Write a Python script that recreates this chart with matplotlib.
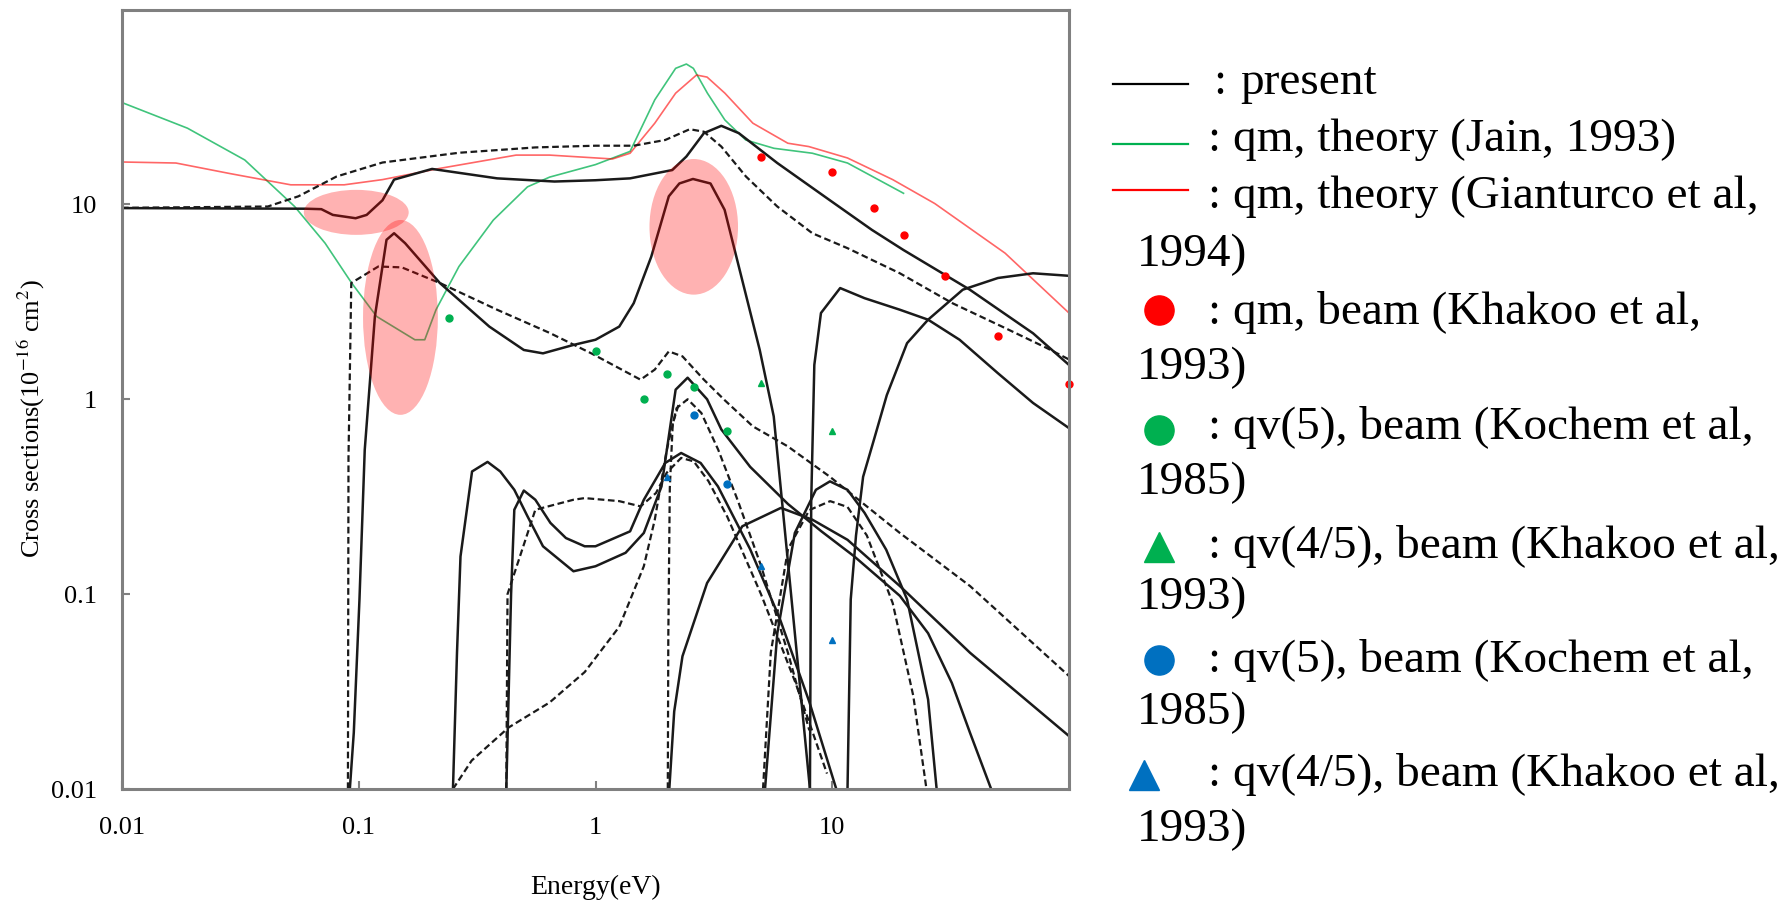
import matplotlib
matplotlib.use('Agg')
import matplotlib.pyplot as plt
from matplotlib.patches import Ellipse
from matplotlib.lines import Line2D

plt.rcParams['font.family'] = ['Liberation Serif', 'DejaVu Serif']
plt.rcParams['mathtext.fontset'] = 'stix'

## theory curves ##
jain_E = [0.01, 0.0189, 0.033, 0.0536, 0.0721, 0.0933, 0.119, 0.1726, 0.19, 0.212, 0.265,
          0.37, 0.516, 0.64, 1.0, 1.40, 1.78, 2.18, 2.42, 2.59, 2.97, 3.52, 4.31, 5.67,
          8.24, 11.6, 20.0]
jain_q = [33.3, 24.6, 16.9, 9.75, 6.32, 3.95, 2.66, 2.02, 2.02, 2.88, 4.8,
          8.3, 12.3, 13.8, 16.0, 18.7, 34.4, 49.9, 52.5, 49.9, 37.2, 27.1, 21.4, 19.4,
          18.3, 16.3, 11.4]
gian_E = [0.01, 0.0169, 0.0285, 0.0516, 0.0868, 0.126, 0.22, 0.462, 0.64, 1.18, 1.40,
          1.78, 2.18, 2.67, 2.96, 3.52, 4.62, 6.49, 7.96, 11.6, 18.0, 27.1, 53.7, 100]
gian_q = [16.5, 16.3, 14.4, 12.6, 12.6, 13.4, 15.3, 17.9, 17.9, 17.1, 18.3,
          26.1, 37.2, 46.1, 45.0, 37.2, 26.1, 20.6, 19.8, 17.3, 13.4, 10.1, 5.62, 2.77]

## present work, solid ##
qm_E = [0.01, 0.0597, 0.0695, 0.0777, 0.097, 0.108, 0.126, 0.141, 0.204, 0.384, 0.671,
        1.0, 1.40, 2.11, 2.42, 2.87, 3.40, 4.03, 5.86, 9.77, 14.7, 20, 38.1, 70.5, 100]
qm_q = [9.57, 9.5, 9.45, 8.83, 8.49, 8.83, 10.5, 13.4, 15.2, 13.6, 13.1,
        13.3, 13.6, 15.0, 17.6, 23.2, 25.3, 23.2, 16.3, 10.5, 7.4, 5.83, 3.65, 2.18, 1.50]
v1_E = [0.0917, 0.0953, 0.1007, 0.106, 0.117, 0.131, 0.141, 0.157, 0.22, 0.356, 0.498,
        0.60, 0.807, 1.0, 1.26, 1.45, 1.72, 2.04, 2.26, 2.58, 3.06, 3.51, 4.03, 4.94,
        5.66, 6.31, 7.08, 8.05]
v1_q = [0.01, 0.0195, 0.094, 0.55, 2.66, 6.58, 7.11, 6.32, 3.95, 2.36, 1.79,
        1.72, 1.90, 2.02, 2.36, 3.11, 5.39, 11.0, 12.8, 13.5, 12.8, 9.38, 4.8, 1.79,
        0.817, 0.211, 0.05, 0.01]
v2_E = [0.25, 0.26, 0.269, 0.301, 0.35, 0.396, 0.454, 0.516, 0.60, 0.807, 1.0, 1.34,
        1.6, 1.9, 2.18, 2.45, 2.96, 3.4, 4.5, 6.5, 9.0, 12.4, 19.3, 25.4, 32.0, 38.2, 46.9]
v2_q = [0.01, 0.05, 0.156, 0.426, 0.477, 0.426, 0.343, 0.251, 0.176, 0.131, 0.139, 0.163,
        0.206, 0.357, 1.12, 1.29, 1.0, 0.7, 0.45, 0.29, 0.21, 0.156, 0.098, 0.063, 0.035,
        0.0194, 0.01]
v3_E = [0.42, 0.44, 0.454, 0.498, 0.557, 0.645, 0.75, 0.90, 1.0, 1.40, 1.60, 1.97, 2.30,
        2.78, 3.29, 4.5, 6.0, 8.0, 10.4]
v3_q = [0.01, 0.1, 0.271, 0.34, 0.305, 0.232, 0.194, 0.176, 0.176, 0.21, 0.305, 0.471,
        0.53, 0.471, 0.357, 0.17, 0.075, 0.028, 0.01]
v4_E = [2.05, 2.15, 2.33, 2.96, 4.17, 6.07, 8.24, 11.6, 19.3, 38.2, 100]
v4_q = [0.01, 0.025, 0.048, 0.114, 0.223, 0.277, 0.241, 0.19, 0.11, 0.05, 0.0187]
v5_E = [8.05, 8.15, 8.4, 8.96, 10.8, 13.7, 19.3, 25.4, 34.5, 50.1, 70.5, 100]
v5_q = [0.01, 0.3, 1.5, 2.77, 3.72, 3.30, 2.88, 2.56, 2.02, 1.36, 0.957, 0.711]
v6_E = [11.6, 11.97, 12.6, 13.5, 15.0, 17.0, 20.7, 25.4, 35.6, 50.1, 70.5, 100]
v6_q = [0.01, 0.094, 0.2, 0.4, 0.62, 1.05, 1.94, 2.56, 3.65, 4.19, 4.43, 4.3]
v7_E = [5.2, 5.86, 6.95, 8.53, 9.78, 11.6, 13.7, 16.9, 20.7, 25.4, 27.6]
v7_q = [0.01, 0.063, 0.206, 0.343, 0.379, 0.343, 0.261, 0.169, 0.094, 0.0288, 0.01]

## present work, dashed ##
mt_E = [0.01, 0.0413, 0.0556, 0.0806, 0.126, 0.265, 0.557, 1.0, 1.45, 1.97, 2.50, 2.87,
        3.40, 4.32, 5.86, 8.24, 11.6, 19.3, 32.2, 53.7, 80.7, 100]
mt_q = [9.6, 9.75, 11.0, 13.9, 16.4, 18.4, 19.6, 20.0, 20.0, 21.4, 24.3, 23.6,
        19.8, 13.9, 9.75, 7.11, 5.96, 4.43, 3.11, 2.32, 1.83, 1.6]
d1_E = [0.09, 0.0905, 0.093, 0.121, 0.152, 0.22, 0.384, 0.64, 0.96, 1.55, 1.78, 2.04,
        2.33, 2.87, 3.51, 4.62, 6.49, 9.78, 19.3, 38.2, 100]
d1_q = [0.01, 0.5, 3.95, 4.8, 4.75, 3.95, 2.88, 2.19, 1.72, 1.26, 1.42, 1.76,
        1.66, 1.26, 0.99, 0.726, 0.573, 0.40, 0.206, 0.11, 0.038]
d2_E = [0.25, 0.3, 0.43, 0.64, 0.9, 1.26, 1.6, 1.78, 2.0, 2.2, 2.45, 2.8, 3.3, 4.0, 5.0,
        6.5, 8.0]
d2_q = [0.01, 0.014, 0.0207, 0.0278, 0.0398, 0.068, 0.139, 0.241, 0.55, 0.9, 1.0, 0.85,
        0.55, 0.3, 0.14, 0.05, 0.02]
d3_E = [0.42, 0.425, 0.557, 0.807, 0.9, 1.26, 1.55, 1.8, 2.0, 2.3, 2.6, 3.0, 3.6, 5.0,
        7.0, 9.5]
d3_q = [0.01, 0.1, 0.271, 0.305, 0.311, 0.30, 0.282, 0.33, 0.42, 0.5, 0.48, 0.38, 0.25,
        0.1, 0.035, 0.012]
d4_E = [5.1, 5.5, 6.5, 8.0, 9.8, 11.6, 14.0, 18.0, 22.0, 25.0]
d4_q = [0.01, 0.05, 0.17, 0.27, 0.3, 0.28, 0.2, 0.09, 0.03, 0.01]
d5_E = [2.02, 2.03, 2.06, 2.12, 2.25]
d5_q = [0.01, 0.06, 0.35, 0.75, 0.95]

## beam data ##
khakoo_qm_E = [5, 10, 15, 20, 30, 50, 100]
khakoo_qm_q = [17.6, 14.7, 9.57, 6.95, 4.30, 2.10, 1.20]
kochem_g_E = [0.24, 1.0, 1.6, 2.0, 2.6, 3.6]
kochem_g_q = [2.6, 1.76, 1.0, 1.34, 1.15, 0.684]
khakoo_g_E = [5, 10]
khakoo_g_q = [1.21, 0.684]
kochem_b_E = [2.6, 3.6]
kochem_b_q = [0.832, 0.369]
khakoo_b_E = [2.0, 5.0, 10.0]
khakoo_b_q = [0.399, 0.139, 0.0585]

## highlighted regions: centre (E, q) and size in decades ##
marks = [((0.0976, 9.1), 0.443, 0.231),
         ((0.150, 2.63), 0.316, 1.0),
         ((2.60, 7.67), 0.374, 0.696)]

legend_rows = [': qm, theory (Jain, 1993)', ': qm, theory (Gianturco et al,', '1994)',
               ': qm, beam (Khakoo et al,', '1993)', ': qv(5), beam (Kochem et al,', '1985)',
               ': qv(4/5), beam (Khakoo et al,', '1993)', ': qv(5), beam (Kochem et al,',
               '1985)', ': qv(4/5), beam (Khakoo et al,', '1993)']

GREEN = '#00b050'
RED = '#ff0000'
BLUE = '#0070c0'
W, H = 1791, 901

fig = plt.figure(figsize=(W / 100, H / 100), dpi=100)
ax = fig.add_axes([122 / W, 1 - 789 / H, (1069 - 122) / W, (789 - 9.5) / H])

ax.plot(jain_E, jain_q, color=GREEN, lw=1.2, alpha=0.75)
ax.plot(gian_E, gian_q, color=RED, lw=1.2, alpha=0.6)

for E, q in [(qm_E, qm_q), (v1_E, v1_q), (v2_E, v2_q), (v3_E, v3_q), (v4_E, v4_q),
             (v5_E, v5_q), (v6_E, v6_q), (v7_E, v7_q)]:
    ax.plot(E, q, color='#1a1a1a', lw=1.8)
for E, q in [(mt_E, mt_q), (d1_E, d1_q), (d2_E, d2_q), (d3_E, d3_q), (d4_E, d4_q),
             (d5_E, d5_q)]:
    ax.plot(E, q, color='#1a1a1a', lw=1.6, dashes=(3, 1.6))

ax.plot(khakoo_qm_E, khakoo_qm_q, 'o', color=RED, ms=5, clip_on=False)
ax.plot(kochem_g_E, kochem_g_q, 'o', color=GREEN, ms=5)
ax.plot(khakoo_g_E, khakoo_g_q, '^', color=GREEN, ms=5)
ax.plot(kochem_b_E, kochem_b_q, 'o', color=BLUE, ms=5)
ax.plot(khakoo_b_E, khakoo_b_q, '^', color=BLUE, ms=5)

ax.set_xscale('log')
ax.set_yscale('log')
ax.set_xlim(0.01, 100)
ax.set_ylim(0.01, 100)

# pink ellipses, drawn in axes fraction so they stay round on log axes
to_axes = ax.transData + ax.transAxes.inverted()
for (cE, cq), w, h in marks:
    cx, cy = to_axes.transform((cE, cq))
    ax.add_patch(Ellipse((cx, cy), w / 4, h / 4, transform=ax.transAxes,
                         facecolor=RED, alpha=0.3, edgecolor='none', zorder=5))

ax.set_xticks([0.01, 0.1, 1, 10])
ax.set_xticklabels(['0.01', '0.1', '1', '10'])
ax.set_yticks([0.01, 0.1, 1, 10])
ax.set_yticklabels(['0.01', '0.1', '1', '10'])
ax.minorticks_off()
ax.tick_params(direction='in', length=6, width=1.5, color='#808080', labelsize=19)
ax.tick_params(axis='x', pad=20)
ax.tick_params(axis='y', pad=18)
for s in ax.spines.values():
    s.set_color('#808080')
    s.set_linewidth(2.2)

ax.set_xlabel('Energy(eV)', fontsize=20, labelpad=26)
ax.set_ylabel('Cross sections(10$^{-16}$ cm$^{2}$)', fontsize=19)
ax.yaxis.set_label_coords(-0.079, 0.475)

## legend drawn by hand, figure pixels ##
def fx(x):
    return x / W

def fy(y):
    return 1 - y / H

for y, c in [(84, '#000000'), (144, GREEN), (190, RED)]:
    fig.add_artist(Line2D([fx(1113), fx(1188)], [fy(y), fy(y)], color=c, lw=1.6))
for x, y, m, c in [(1159, 310, 'o', RED), (1159, 430, 'o', GREEN), (1159, 547, '^', GREEN),
                   (1159, 660, 'o', BLUE), (1144, 775, '^', BLUE)]:
    fig.add_artist(Line2D([fx(x)], [fy(y)], marker=m, color=c, ms=21, lw=0))

fig.text(fx(1213), fy(83), ':', fontsize=34, va='center')
fig.text(fx(1240), fy(83), 'present', fontsize=34, va='center')
row_y = [140, 197, 255, 312, 368, 428, 483, 547, 598, 660, 713, 775, 830]
for y, t in zip(row_y, legend_rows):
    x = 1137 if t[0] != ':' else 1208
    fig.text(fx(x), fy(y), t, fontsize=34, va='center')

fig.savefig('out.png', dpi=100)
